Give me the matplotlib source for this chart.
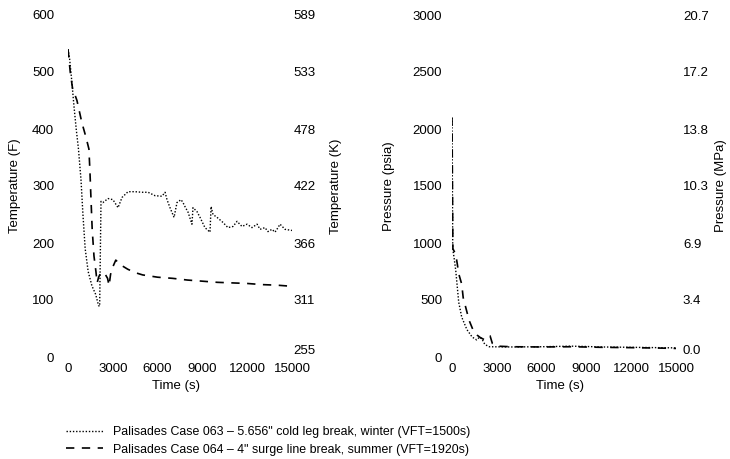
import matplotlib
matplotlib.use("Agg")
import matplotlib.pyplot as plt
from matplotlib.lines import Line2D

plt.rcParams['font.family'] = ['Liberation Sans', 'DejaVu Sans']

# ---- Temperature histories (time in s, temperature in F) ----
t063_temp = [0, 100, 250, 400, 550, 700, 870, 1000, 1150, 1350, 1600, 1850, 2050, 2120,
             2210, 2340, 2680, 3010, 3350, 3620, 4020, 4490, 4960, 5360, 5830, 6290,
             6500, 6630, 6830, 7100, 7300, 7570, 7700, 7830, 8040, 8300, 8370, 8640,
             8840, 9170, 9510, 9580, 9710, 9980, 10380, 10710, 11050, 11320, 11650,
             11990, 12320, 12660, 12860, 13190, 13390, 13660, 13860, 13990, 14200,
             14530, 15000]
T063 = [540, 525, 485, 440, 400, 365, 311, 250, 190, 150, 125, 110, 90, 89,
        273, 271, 278, 276, 262, 280, 290, 290, 289, 289, 283, 282,
        289, 276, 262, 245, 271, 276, 271, 264, 254, 233, 262, 255,
        245, 227, 219, 264, 250, 245, 236, 227, 229, 238, 229,
        233, 227, 233, 224, 227, 220, 224, 219, 224, 233,
        224, 222]

t064_temp = [0, 150, 300, 600, 930, 1200, 1400, 1470, 1550, 1620, 1740, 1870, 1950,
             2050, 2200, 2450, 2650, 2750, 2850, 3000, 3200, 3500, 4000, 4500, 5000,
             6000, 7000, 8000, 9000, 10000, 11000, 12000, 13000, 14000, 15000]
T064 = [540, 500, 472, 450, 411, 386, 365, 325, 270, 224, 177, 150, 130,
        140, 148, 147, 138, 125, 145, 158, 170, 162, 154, 148, 144,
        140, 138, 135, 133, 131, 130, 129, 127, 126, 124]

# ---- Pressure histories (time in s, pressure in psia) ----
t063_pres = [0, 50, 150, 250, 350, 450, 650, 1000, 1350, 1650, 1850, 2000, 2200,
             2500, 4000, 6000, 8000, 9000, 10000, 12000, 15000]
P063 = [2100, 950, 860, 760, 620, 480, 350, 240, 175, 150, 175, 160, 110,
        90, 88, 90, 95, 92, 88, 85, 80]

t064_pres = [0, 30, 60, 250, 350, 450, 650, 750, 950, 1150, 1400, 1700, 1900,
             2200, 2400, 2550, 2700, 3000, 4000, 6000, 8000, 10000, 12000, 14000, 15000]
P064 = [2100, 1500, 950, 900, 820, 730, 640, 520, 420, 320, 240, 190, 170,
        150, 175, 185, 120, 95, 90, 88, 90, 85, 82, 78, 75]

# ---- Axis ticks ----
time_ticks = [0, 3000, 6000, 9000, 12000, 15000]
temp_ticks_F = [0, 100, 200, 300, 400, 500, 600]
temp_ticks_K = ["255", "311", "366", "422", "478", "533", "589"]
pres_ticks_psia = [0, 500, 1000, 1500, 2000, 2500, 3000]
pres_ticks_MPa = ["0.0", "3.4", "6.9", "10.3", "13.8", "17.2", "20.7"]

legend_labels = [
    'Palisades Case 063 \u2013 5.656" cold leg break, winter (VFT=1500s)',
    'Palisades Case 064 \u2013 4" surge line break, summer (VFT=1920s)',
]

W, H = 730, 459
fig = plt.figure(figsize=(W / 100, H / 100), dpi=100)

dotted = dict(color="black", lw=1.0, linestyle=(0, (1.0, 1.3)))
dashed = dict(color="black", lw=1.2, linestyle=(0, (5.0, 4.5)))

TICK_FS = 9.5
LABEL_FS = 9.5


def style_axes(ax, right, left_pad, right_pad):
    for s in ax.spines.values():
        s.set_visible(False)
    for s in right.spines.values():
        s.set_visible(False)
    ax.tick_params(axis="both", length=0, labelsize=TICK_FS)
    ax.tick_params(axis="y", pad=left_pad)
    ax.tick_params(axis="x", pad=4)
    right.tick_params(axis="y", length=0, labelsize=TICK_FS, pad=right_pad)


# Left panel: temperature
ax1 = fig.add_axes([68 / W, 1 - 357 / H, 224 / W, 342 / H])
ax1.plot(t063_temp, T063, **dotted)
ax1.plot(t064_temp, T064, **dashed)
ax1.set_xlim(0, 15000)
ax1.set_ylim(0, 600)
ax1.set_xticks(time_ticks)
ax1.set_yticks(temp_ticks_F)
ax1r = ax1.twinx()
ax1r.set_ylim(0, 600)
ax1r.set_yticks(temp_ticks_F)
ax1r.set_yticklabels(temp_ticks_K)
style_axes(ax1, ax1r, 10, 1)
# nudge the bottom K label up a touch so it clears the last time label
ax1r.get_yticklabels()[0].set_va("bottom")
ax1.set_xlabel("Time (s)", fontsize=LABEL_FS)
ax1.xaxis.set_label_coords(0.48, -0.066)
ax1.set_ylabel("Temperature (F)", fontsize=LABEL_FS)
ax1.yaxis.set_label_coords(-0.21, 0.5)
ax1r.set_ylabel("Temperature (K)", fontsize=LABEL_FS)
ax1r.yaxis.set_label_coords(1.17, 0.5)

# Right panel: pressure
ax2 = fig.add_axes([452 / W, 1 - 357 / H, 224 / W, 342 / H])
ax2.plot(t063_pres, P063, **dotted)
ax2.plot(t064_pres, P064, **dashed)
ax2.set_xlim(0, 15000)
ax2.set_ylim(0, 3000)
ax2.set_xticks(time_ticks)
ax2.set_yticks(pres_ticks_psia)
ax2r = ax2.twinx()
ax2r.set_ylim(0, 3000)
ax2r.set_yticks(pres_ticks_psia)
ax2r.set_yticklabels(pres_ticks_MPa)
style_axes(ax2, ax2r, 7, 5)
ax2r.get_yticklabels()[0].set_va("bottom")
ax2.set_xlabel("Time (s)", fontsize=LABEL_FS)
ax2.xaxis.set_label_coords(0.48, -0.066)
ax2.set_ylabel("Pressure (psia)", fontsize=LABEL_FS)
ax2.yaxis.set_label_coords(-0.254, 0.5)
ax2r.set_ylabel("Pressure (MPa)", fontsize=LABEL_FS)
ax2r.yaxis.set_label_coords(1.175, 0.5)

handles = [Line2D([], [], **dotted), Line2D([], [], **dashed)]
fig.legend(handles, legend_labels, loc="upper left",
           bbox_to_anchor=(66 / W, 1 - 426 / H), frameon=False,
           fontsize=8.9, handlelength=3.0, handletextpad=0.8,
           labelspacing=0.45, borderaxespad=0, borderpad=0)

fig.savefig("out.png", dpi=100, facecolor="white")
